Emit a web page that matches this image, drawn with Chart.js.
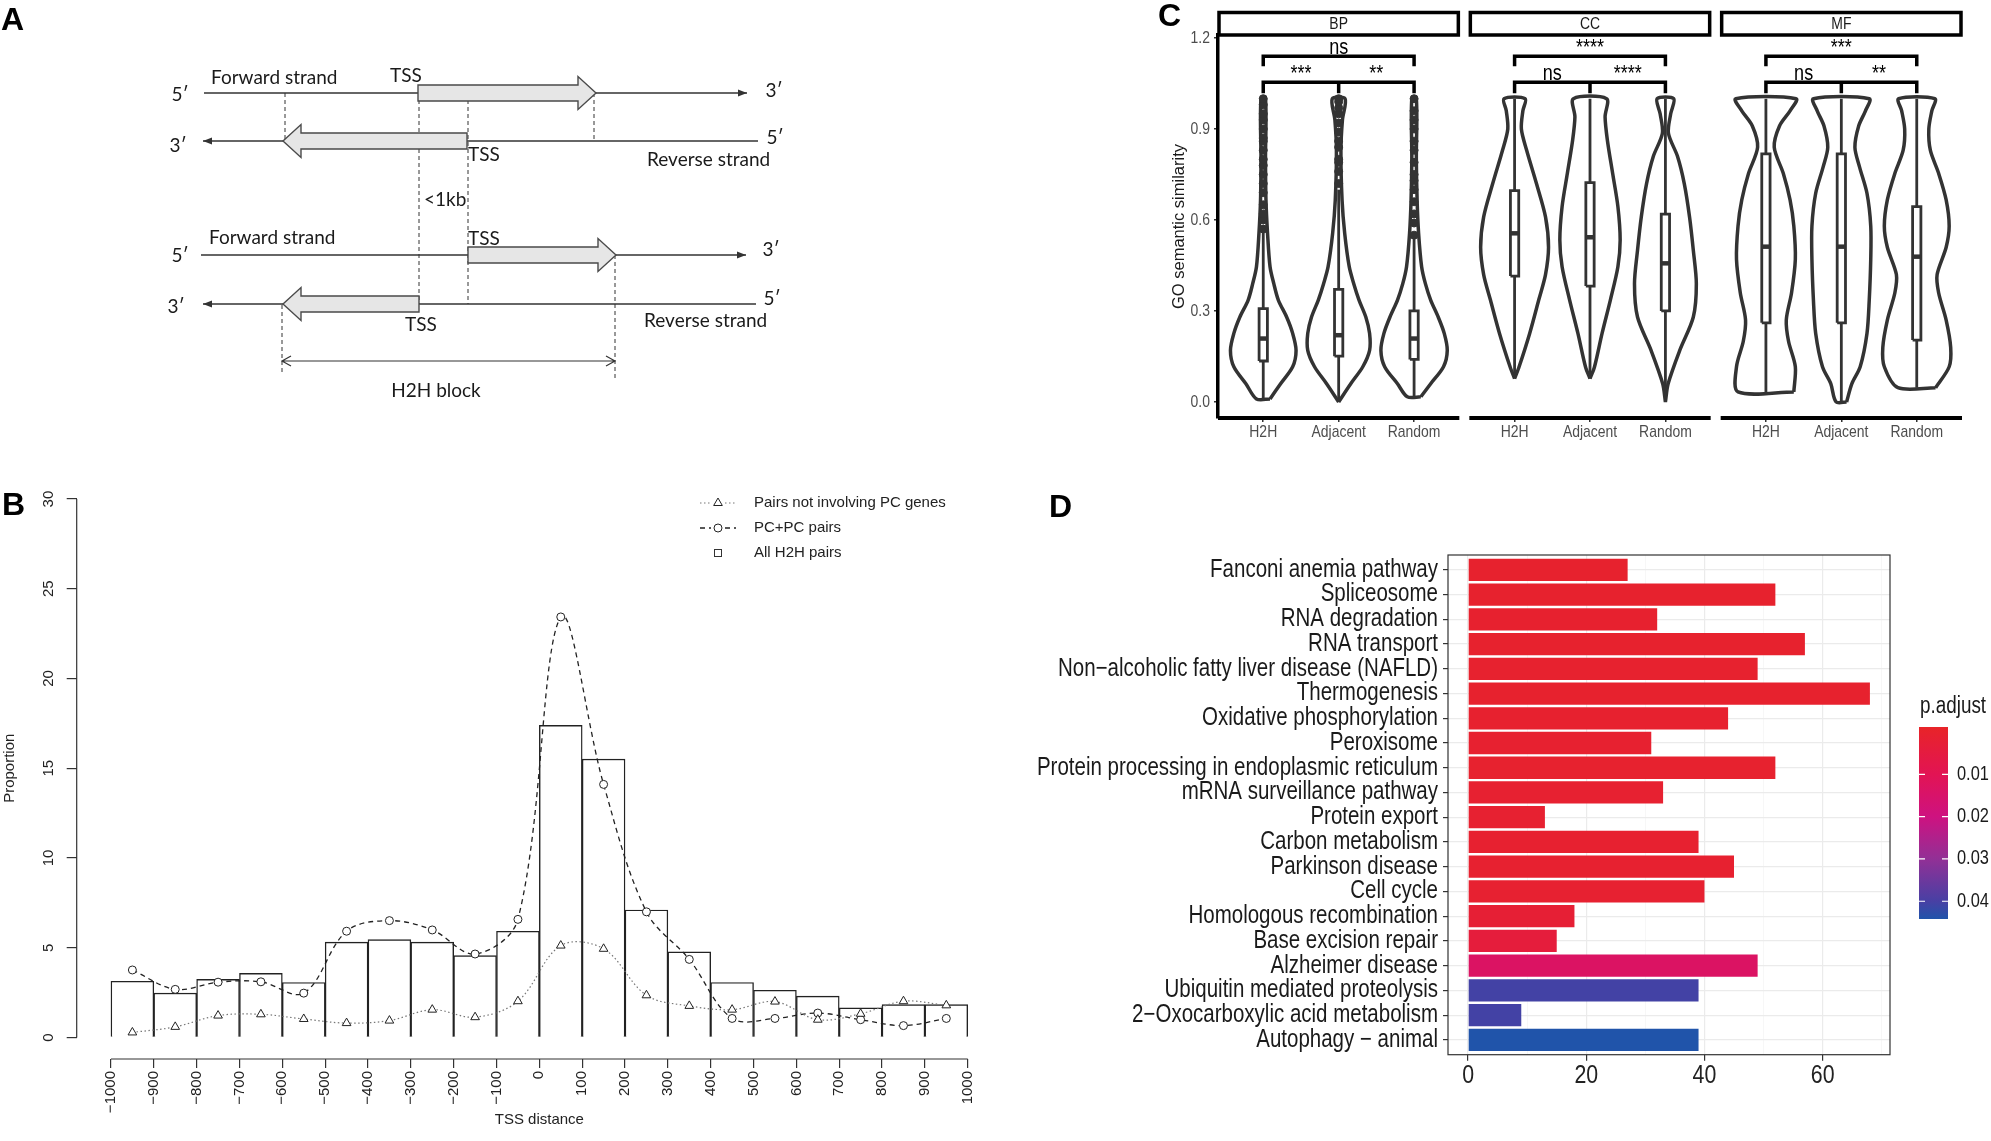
<!DOCTYPE html>
<html>
<head>
<meta charset="utf-8">
<script src="https://cdn.jsdelivr.net/npm/chart.js@4.4.1/dist/chart.umd.min.js"></script>
<style>
  body { margin: 0; background: #fff; width: 1991px; height: 1141px; position: relative; overflow: hidden; }
  canvas { position: absolute; }
  .tag { position: absolute; font: bold 32px "Liberation Sans", Arial, sans-serif; line-height: 32px; color: #000; }
</style>
</head>
<body>
<canvas id="chartA" width="820" height="460" style="left:0px;top:0px"></canvas>
<canvas id="chartB" width="1010" height="671" style="left:0px;top:470px"></canvas>
<canvas id="chartC" width="851" height="470" style="left:1140px;top:0px"></canvas>
<canvas id="chartD" width="981" height="661" style="left:1010px;top:480px"></canvas>
<div class="tag" style="left:1px;top:3px">A</div>
<div class="tag" style="left:2px;top:488px">B</div>
<div class="tag" style="left:1158px;top:-1px">C</div>
<div class="tag" style="left:1049px;top:490px">D</div>
<script>
// ---------- panel A : H2H schematic (schematic units) ----------
var strandRows = [93, 141, 255, 304];
var strandEnds = [[204, 747], [203, 758], [201, 746], [203, 756]];
var strandDir = [1, -1, 1, -1];
var geneTss = [418, 467, 468, 419];
var geneEnd = [596, 283, 616, 283];
var guideLines = [[285, 93, 141], [419, 100, 304], [468, 100, 304], [594, 93, 139], [282, 305, 374], [615, 255, 381]];
var blockSpan = [282, 615, 361];

// ---------- panel B : TSS distance distribution ----------
var tssBins = [-950, -850, -750, -650, -550, -450, -350, -250, -150, -50, 50, 150, 250, 350, 450, 550, 650, 750, 850, 950];
var allH2H = [3.13, 2.47, 3.24, 3.57, 3.06, 5.31, 5.45, 5.31, 4.56, 5.92, 17.39, 15.51, 7.10, 4.77, 3.06, 2.63, 2.30, 1.65, 1.83, 1.83];
var pcPairs = [3.76, 2.68, 3.08, 3.10, 2.47, 5.92, 6.51, 5.99, 4.65, 6.58, 23.43, 14.10, 7.00, 4.35, 1.06, 1.06, 1.36, 0.99, 0.66, 1.06];
var nonPcPairs = [0.28, 0.59, 1.22, 1.29, 1.03, 0.80, 0.94, 1.55, 1.13, 2.02, 5.12, 4.94, 2.35, 1.76, 1.55, 2.00, 0.99, 1.32, 2.02, 1.79];
var tssTicks = [-1000, -900, -800, -700, -600, -500, -400, -300, -200, -100, 0, 100, 200, 300, 400, 500, 600, 700, 800, 900, 1000];
var proportionTicks = [0, 5, 10, 15, 20, 25, 30];

// ---------- panel C : GO semantic similarity ----------
var goFacets = ['BP', 'CC', 'MF'];
var goGroups = ['H2H', 'Adjacent', 'Random'];
// violin outlines: [similarity, half width in group units]
var bpH2H = [[0.01, 0.09], [0.06, 0.23], [0.116, 0.39], [0.17, 0.435], [0.226, 0.39], [0.28, 0.31], [0.336, 0.2], [0.39, 0.14], [0.446, 0.09], [0.556, 0.057], [0.666, 0.036], [0.8, 0.03], [1.0, 0.03]];
var bpAdj = [[0.0, 0.0], [0.06, 0.16], [0.116, 0.32], [0.17, 0.41], [0.226, 0.41], [0.28, 0.36], [0.336, 0.27], [0.39, 0.2], [0.446, 0.14], [0.556, 0.08], [0.666, 0.045], [0.83, 0.03], [0.93, 0.05], [1.0, 0.085]];
var bpRand = [[0.017, 0.09], [0.06, 0.22], [0.116, 0.39], [0.17, 0.44], [0.226, 0.4], [0.28, 0.32], [0.336, 0.22], [0.39, 0.15], [0.446, 0.1], [0.556, 0.06], [0.666, 0.04], [0.8, 0.03], [1.0, 0.03]];
var ccH2H = [[0.077, 0], [0.116, 0.06], [0.226, 0.2], [0.336, 0.32], [0.42, 0.41], [0.51, 0.45], [0.61, 0.41], [0.72, 0.29], [0.83, 0.16], [0.9, 0.09], [0.96, 0.11], [1.0, 0.14]];
var ccAdj = [[0.077, 0], [0.116, 0.06], [0.226, 0.16], [0.336, 0.27], [0.446, 0.37], [0.534, 0.4], [0.644, 0.37], [0.754, 0.3], [0.864, 0.23], [0.94, 0.2], [1.0, 0.22]];
var ccRand = [[0, 0], [0.06, 0.036], [0.17, 0.19], [0.28, 0.37], [0.39, 0.41], [0.5, 0.37], [0.61, 0.32], [0.72, 0.25], [0.81, 0.16], [0.886, 0.04], [0.95, 0.07], [1.0, 0.11]];
var mfH2H = [[0.033, 0.37], [0.116, 0.39], [0.2, 0.3], [0.27, 0.27], [0.36, 0.34], [0.47, 0.39], [0.58, 0.37], [0.666, 0.32], [0.754, 0.23], [0.84, 0.11], [0.91, 0.18], [0.96, 0.32], [1.0, 0.4]];
var mfAdj = [[0, 0.07], [0.06, 0.14], [0.116, 0.25], [0.226, 0.34], [0.336, 0.37], [0.47, 0.39], [0.58, 0.39], [0.688, 0.34], [0.776, 0.24], [0.84, 0.18], [0.91, 0.23], [0.96, 0.32], [1.0, 0.37]];
var mfRand = [[0.047, 0.25], [0.116, 0.43], [0.18, 0.45], [0.27, 0.39], [0.36, 0.29], [0.42, 0.27], [0.51, 0.39], [0.58, 0.43], [0.666, 0.39], [0.754, 0.29], [0.83, 0.18], [0.9, 0.16], [0.96, 0.2], [1.0, 0.24]];
var violins = [bpH2H, bpAdj, bpRand, ccH2H, ccAdj, ccRand, mfH2H, mfAdj, mfRand];
var boxQ1 = [0.135, 0.151, 0.14, 0.415, 0.382, 0.30, 0.261, 0.261, 0.204];
var boxMedian = [0.209, 0.22, 0.209, 0.556, 0.543, 0.457, 0.512, 0.512, 0.479];
var boxQ3 = [0.308, 0.371, 0.30, 0.697, 0.723, 0.619, 0.818, 0.818, 0.644];
var whiskerLo = [0.01, 0.0, 0.017, 0.077, 0.077, 0.0, 0.033, 0.0, 0.047];
var whiskerHi = [0.56, 0.70, 0.54, 1.0, 1.0, 1.0, 1.0, 1.0, 1.0];
var bpOutliers = [
  [0.57, 0.6, 0.62, 0.65, 0.69, 0.72, 0.75, 0.78, 0.8, 0.83, 0.86, 0.87, 0.9, 0.93, 0.95, 0.98, 1.0],
  [0.72, 0.76, 0.79, 0.8, 0.84, 0.86, 0.89, 0.92, 0.95, 0.97, 0.99, 1.0],
  [0.55, 0.59, 0.62, 0.66, 0.7, 0.73, 0.75, 0.79, 0.83, 0.86, 0.9, 0.93, 0.96, 1.0]
];
var sigOuter = ['ns', '****', '***'];
var sigLeft = ['***', 'ns', 'ns'];
var sigRight = ['**', '****', '**'];
var similarityTicks = [0, 0.3, 0.6, 0.9, 1.2];

// ---------- panel D : KEGG enrichment ----------
var keggTerms = ['Fanconi anemia pathway', 'Spliceosome', 'RNA degradation', 'RNA transport',
  'Non\u2212alcoholic fatty liver disease (NAFLD)', 'Thermogenesis', 'Oxidative phosphorylation', 'Peroxisome',
  'Protein processing in endoplasmic reticulum', 'mRNA surveillance pathway', 'Protein export', 'Carbon metabolism',
  'Parkinson disease', 'Cell cycle', 'Homologous recombination', 'Base excision repair', 'Alzheimer disease',
  'Ubiquitin mediated proteolysis', '2\u2212Oxocarboxylic acid metabolism', 'Autophagy \u2212 animal'];
var keggCounts = [27, 52, 32, 57, 49, 68, 44, 31, 52, 33, 13, 39, 45, 40, 18, 15, 49, 39, 9, 39];
var keggPadj = [0.0004, 0.0003, 0.0006, 0.0003, 0.0005, 0.0002, 0.0006, 0.0008, 0.0005, 0.001, 0.0012, 0.0009, 0.0008, 0.001, 0.002, 0.004, 0.0135, 0.0405, 0.0405, 0.0442];
var countTicks = [0, 10, 20, 30, 40, 50, 60, 70];
var padjTicks = [0.01, 0.02, 0.03, 0.04];
var padjStops = [-0.0012, 0.01, 0.02, 0.03, 0.04, 0.0442];
var padjStopColours = [[232, 36, 40], [226, 20, 84], [206, 18, 128], [146, 48, 150], [72, 64, 164], [32, 84, 170]];

var SANS = '"Liberation Sans", Arial, sans-serif';
var LATO = 'Lato, "Open Sans", sans-serif';

Chart.defaults.font.family = SANS;
Chart.defaults.color = '#222';
Chart.defaults.animation = false;

function baseOpts() {
  return { responsive: false, animation: false, devicePixelRatio: 1, events: [],
    plugins: { legend: { display: false }, tooltip: { enabled: false } } };
}

// condensed (Arial Narrow like) text
function narrowText(ctx, text, x, y, size, align, baseline, colour) {
  ctx.save();
  ctx.font = size + 'px ' + SANS;
  ctx.fillStyle = colour;
  ctx.textAlign = align;
  ctx.textBaseline = baseline;
  ctx.translate(x, y);
  ctx.scale(0.82, 1);
  ctx.fillText(text, 0, 0);
  ctx.restore();
}

// ================= A =================
var schematicA = {
  id: 'schematicA',
  afterDraw: function (chart) {
    var ctx = chart.ctx, xs = chart.scales.x, ys = chart.scales.y;
    var X = function (v) { return xs.getPixelForValue(v); };
    var Y = function (v) { return ys.getPixelForValue(v); };
    ctx.save();
    ctx.strokeStyle = '#333';
    ctx.fillStyle = '#333';
    ctx.lineWidth = 1.3;
    strandRows.forEach(function (r, i) {
      var a = X(strandEnds[i][0]), b = X(strandEnds[i][1]), yy = Y(r);
      ctx.beginPath(); ctx.moveTo(a, yy); ctx.lineTo(b, yy); ctx.stroke();
      var tip = strandDir[i] > 0 ? b : a, d = strandDir[i];
      ctx.beginPath(); ctx.moveTo(tip, yy); ctx.lineTo(tip - d * 9, yy - 3.5); ctx.lineTo(tip - d * 9, yy + 3.5); ctx.closePath(); ctx.fill();
    });
    ctx.setLineDash([4, 3]);
    ctx.lineWidth = 1;
    guideLines.forEach(function (g) {
      ctx.beginPath(); ctx.moveTo(X(g[0]), Y(g[1])); ctx.lineTo(X(g[0]), Y(g[2])); ctx.stroke();
    });
    ctx.setLineDash([]);
    strandRows.forEach(function (r, i) {
      var s = X(geneTss[i]), e = X(geneEnd[i]), d = e > s ? 1 : -1, yy = Y(r);
      var hb = e - d * 18;
      ctx.beginPath();
      ctx.moveTo(s, yy - 8); ctx.lineTo(hb, yy - 8); ctx.lineTo(hb, yy - 16.5); ctx.lineTo(e, yy);
      ctx.lineTo(hb, yy + 16.5); ctx.lineTo(hb, yy + 8); ctx.lineTo(s, yy + 8); ctx.closePath();
      ctx.fillStyle = '#e6e6e6'; ctx.fill();
      ctx.strokeStyle = '#4a4a4a'; ctx.lineWidth = 1.4; ctx.stroke();
    });
    var l = X(blockSpan[0]), rr = X(blockSpan[1]), by = Y(blockSpan[2]);
    ctx.strokeStyle = '#333'; ctx.lineWidth = 1.2;
    ctx.beginPath(); ctx.moveTo(l, by); ctx.lineTo(rr, by);
    ctx.moveTo(l + 9, by - 5); ctx.lineTo(l, by); ctx.lineTo(l + 9, by + 5);
    ctx.moveTo(rr - 9, by - 5); ctx.lineTo(rr, by); ctx.lineTo(rr - 9, by + 5);
    ctx.stroke();
    ctx.fillStyle = '#1a1a1a';
    ctx.font = '19px ' + LATO;
    ctx.textBaseline = 'middle';
    var labels = [
      ['Forward strand', 211, 78, 'left'], ['Forward strand', 209, 238, 'left'],
      ['Reverse strand', 647, 160, 'left'], ['Reverse strand', 644, 321, 'left'],
      ['TSS', 406, 76, 'center'], ['TSS', 484, 155, 'center'], ['TSS', 484, 239, 'center'], ['TSS', 421, 325, 'center'],
      ['5\u2032', 180, 95, 'center'], ['3\u2032', 774, 91, 'center'],
      ['3\u2032', 178, 146, 'center'], ['5\u2032', 775, 138, 'center'],
      ['5\u2032', 180, 256, 'center'], ['3\u2032', 771, 250, 'center'],
      ['3\u2032', 176, 307, 'center'], ['5\u2032', 772, 299, 'center'],
      ['<1kb', 424, 200, 'left'], ['H2H block', 436, 391, 'center']
    ];
    labels.forEach(function (t) { ctx.textAlign = t[3]; ctx.fillText(t[0], X(t[1]), Y(t[2])); });
    ctx.restore();
  }
};

var optsA = baseOpts();
optsA.layout = { padding: 0 };
optsA.scales = {
  x: { type: 'linear', min: 0, max: 820, display: false },
  y: { type: 'linear', min: 0, max: 460, reverse: true, display: false }
};
new Chart(document.getElementById('chartA'), { type: 'scatter', data: { datasets: [] }, options: optsA, plugins: [schematicA] });

// ================= B =================
function xy(xsv, ysv) { return ysv.map(function (v, i) { return { x: xsv[i], y: v }; }); }

var rStyleB = {
  id: 'rStyleB',
  afterDraw: function (chart) {
    var ctx = chart.ctx, a = chart.chartArea, xs = chart.scales.x, ys = chart.scales.y;
    ctx.save();
    ctx.strokeStyle = '#333'; ctx.lineWidth = 1.2;
    ctx.beginPath();
    ctx.moveTo(a.left, ys.getPixelForValue(proportionTicks[0]));
    ctx.lineTo(a.left, ys.getPixelForValue(proportionTicks[proportionTicks.length - 1]));
    ctx.moveTo(xs.getPixelForValue(tssTicks[0]), a.bottom);
    ctx.lineTo(xs.getPixelForValue(tssTicks[tssTicks.length - 1]), a.bottom);
    ctx.stroke();
    ctx.fillStyle = '#222';
    ctx.font = '15px ' + SANS;
    ctx.textAlign = 'center'; ctx.textBaseline = 'middle';
    proportionTicks.forEach(function (v) {
      ctx.save(); ctx.translate(a.left - 28, ys.getPixelForValue(v)); ctx.rotate(-Math.PI / 2);
      ctx.fillText(String(v), 0, 0); ctx.restore();
    });
    var ds = chart.data.datasets;
    ctx.textAlign = 'left';
    ds.forEach(function (d, i) {
      var ly = 33 + 25 * i, sx = 718;
      ctx.strokeStyle = d.borderColor; ctx.lineWidth = d.borderWidth;
      if (d.type === 'line') {
        ctx.setLineDash(d.borderDash);
        ctx.beginPath(); ctx.moveTo(sx - 18, ly); ctx.lineTo(sx - 7, ly); ctx.moveTo(sx + 7, ly); ctx.lineTo(sx + 18, ly); ctx.stroke();
        ctx.setLineDash([]);
        ctx.strokeStyle = d.pointBorderColor; ctx.fillStyle = '#fff'; ctx.lineWidth = 1;
        Chart.helpers.drawPoint(ctx, { pointStyle: d.pointStyle, radius: d.pointRadius, borderWidth: 1, rotation: 0 }, sx, ly);
      } else {
        ctx.lineWidth = 1; ctx.strokeStyle = '#333';
        ctx.strokeRect(sx - 3.5, ly - 3.5, 7, 7);
      }
      ctx.fillStyle = '#222';
      ctx.fillText(d.label, 754, ly);
    });
    ctx.restore();
  }
};

var optsB = baseOpts();
optsB.layout = { padding: { left: 0, right: 8, top: 7.5, bottom: 0 } };
optsB.scales = {
  x: {
    type: 'linear', min: -1080, max: 1080, offset: false,
    afterBuildTicks: function (s) { s.ticks = tssTicks.map(function (v) { return { value: v }; }); },
    ticks: { autoSkip: false, minRotation: 90, maxRotation: 90, padding: 3, font: { size: 15 }, color: '#222',
      callback: function (v) { return v < 0 ? '\u2212' + Math.abs(v) : String(v); } },
    grid: { offset: false, drawOnChartArea: false, drawTicks: true, tickLength: 9, color: '#333', lineWidth: 1.2 },
    border: { display: false },
    title: { display: true, text: 'TSS distance', font: { size: 15 }, color: '#222', padding: { top: 0, bottom: 12 } },
    afterFit: function (s) { s.height = 82; s.paddingLeft = 0; s.paddingRight = 0; }
  },
  y: {
    type: 'linear', min: -1.2, max: 31.2,
    afterBuildTicks: function (s) { s.ticks = proportionTicks.map(function (v) { return { value: v }; }); },
    ticks: { display: false },
    grid: { drawOnChartArea: false, drawTicks: true, tickLength: 10, color: '#333', lineWidth: 1.2 },
    border: { display: false },
    title: { display: true, text: 'Proportion', font: { size: 15 }, color: '#222', padding: { top: 1, bottom: 0 } },
    afterFit: function (s) { s.width = 76.7; s.paddingTop = 0; s.paddingBottom = 0; }
  }
};
new Chart(document.getElementById('chartB'), {
  type: 'bar',
  data: {
    datasets: [
      { type: 'line', label: 'Pairs not involving PC genes', data: xy(tssBins, nonPcPairs), borderColor: '#777', borderWidth: 1.2,
        borderDash: [1.5, 2.5], tension: 0.35, pointStyle: 'triangle', pointRadius: 5, pointBorderColor: '#222',
        pointBackgroundColor: '#fff', pointBorderWidth: 1, order: 0 },
      { type: 'line', label: 'PC+PC pairs', data: xy(tssBins, pcPairs), borderColor: '#222', borderWidth: 1.3,
        borderDash: [5, 4], tension: 0.35, pointStyle: 'circle', pointRadius: 4, pointBorderColor: '#222',
        pointBackgroundColor: '#fff', pointBorderWidth: 1, order: 0 },
      { type: 'bar', label: 'All H2H pairs', data: xy(tssBins, allH2H), backgroundColor: '#fff', borderColor: '#222',
        borderWidth: 1.4, barPercentage: 1, categoryPercentage: 1, order: 1 }
    ]
  },
  options: optsB,
  plugins: [rStyleB]
});

// ================= C =================
var FACET_W = 3.2, FACET_GAP = 0.1326;
function facetStart(f) { return f * (FACET_W + FACET_GAP); }
function groupX(f, g) { return facetStart(f) + 0.6 + g; }

var dsC = [];
violins.forEach(function (prof, k) {
  var cx = groupX(Math.floor(k / 3), k % 3);
  var right = prof.map(function (p) { return { x: cx + p[1], y: p[0] }; });
  var left = prof.slice().reverse().map(function (p) { return { x: cx - p[1], y: p[0] }; });
  dsC.push({ data: right.concat(left, [right[0]]), showLine: true, tension: 0.3, pointRadius: 0,
    borderColor: '#333', borderWidth: 3.5, fill: false, order: 5 });
  dsC.push({ data: [{ x: cx, y: whiskerLo[k] }, { x: cx, y: whiskerHi[k] }], showLine: true, pointRadius: 0,
    borderColor: '#333', borderWidth: 2.8, order: 4 });
  var bw = 0.055;
  dsC.push({ data: [{ x: cx - bw, y: boxQ1[k] }, { x: cx + bw, y: boxQ1[k] }, { x: cx + bw, y: boxQ3[k] }, { x: cx - bw, y: boxQ3[k] }, { x: cx - bw, y: boxQ1[k] }],
    showLine: true, pointRadius: 0, borderColor: '#333', borderWidth: 2.8, fill: 'shape', backgroundColor: '#fff', order: 2 });
  dsC.push({ data: [{ x: cx - bw, y: boxMedian[k] }, { x: cx + bw, y: boxMedian[k] }], showLine: true, pointRadius: 0,
    borderColor: '#333', borderWidth: 4.5, order: 1 });
});
bpOutliers.forEach(function (vals, g) {
  var cx = groupX(0, g);
  dsC.push({ data: vals.map(function (v) { return { x: cx, y: v }; }), pointRadius: 4, pointBackgroundColor: '#333',
    pointBorderColor: '#333', showLine: false, order: 3 });
});

var facetsC = {
  id: 'facetsC',
  afterDraw: function (chart) {
    var ctx = chart.ctx, a = chart.chartArea, xs = chart.scales.x, ys = chart.scales.y;
    var X = function (v) { return xs.getPixelForValue(v); };
    var Y = function (v) { return ys.getPixelForValue(v); };
    ctx.save();
    similarityTicks.forEach(function (v) {
      narrowText(ctx, v.toFixed(1), a.left - 8, Y(v), 17, 'right', 'middle', '#4d4d4d');
    });
    goFacets.forEach(function (name, f) {
      var l = X(facetStart(f)), r = X(facetStart(f) + FACET_W);
      ctx.fillStyle = '#fff'; ctx.strokeStyle = '#000'; ctx.lineWidth = 3.5;
      ctx.fillRect(l, 11, r - l, a.top - 11);
      ctx.strokeRect(l + 1, 12.5, r - l - 2, a.top - 12.5);
      narrowText(ctx, name, (l + r) / 2, (12.5 + a.top) / 2 + 1, 17, 'center', 'middle', '#1a1a1a');
      ctx.strokeStyle = '#000'; ctx.lineWidth = 4;
      ctx.beginPath(); ctx.moveTo(l, a.bottom); ctx.lineTo(r, a.bottom); ctx.stroke();
      goGroups.forEach(function (g, j) {
        narrowText(ctx, g, X(groupX(f, j)), a.bottom + 6, 17, 'center', 'top', '#4d4d4d');
      });
      var c0 = X(groupX(f, 0)), c1 = X(groupX(f, 1)), c2 = X(groupX(f, 2));
      ctx.strokeStyle = '#000'; ctx.lineWidth = 3.5;
      ctx.beginPath();
      ctx.moveTo(c0, Y(1.107)); ctx.lineTo(c0, Y(1.14)); ctx.lineTo(c2, Y(1.14)); ctx.lineTo(c2, Y(1.107));
      ctx.moveTo(c0, Y(1.018)); ctx.lineTo(c0, Y(1.054)); ctx.lineTo(c2, Y(1.054)); ctx.lineTo(c2, Y(1.018));
      ctx.moveTo(c1, Y(1.054)); ctx.lineTo(c1, Y(1.018));
      ctx.stroke();
      narrowText(ctx, sigOuter[f], c1, Y(1.148), 22, 'center', 'alphabetic', '#000');
      narrowText(ctx, sigLeft[f], (c0 + c1) / 2, Y(1.062), 22, 'center', 'alphabetic', '#000');
      narrowText(ctx, sigRight[f], (c1 + c2) / 2, Y(1.062), 22, 'center', 'alphabetic', '#000');
    });
    ctx.restore();
  }
};

var optsC = baseOpts();
optsC.layout = { padding: { left: 0, right: 29, top: 35, bottom: 0 } };
optsC.scales = {
  x: {
    type: 'linear', min: 0, max: facetStart(2) + FACET_W,
    afterBuildTicks: function (s) {
      var t = [];
      goFacets.forEach(function (f, i) { goGroups.forEach(function (g, j) { t.push({ value: groupX(i, j) }); }); });
      s.ticks = t;
    },
    ticks: { display: false },
    grid: { drawOnChartArea: false, drawTicks: true, tickLength: 4, color: '#333', lineWidth: 1.5 },
    border: { display: false },
    afterFit: function (s) { s.height = 52; s.paddingLeft = 0; s.paddingRight = 0; }
  },
  y: {
    type: 'linear', min: -0.053, max: 1.21,
    afterBuildTicks: function (s) { s.ticks = similarityTicks.map(function (v) { return { value: v }; }); },
    ticks: { display: false },
    grid: { drawOnChartArea: false, drawTicks: true, tickLength: 4, color: '#333', lineWidth: 1.5 },
    border: { display: true, color: '#000', width: 3.5 },
    title: { display: true, text: 'GO semantic similarity', font: { size: 16.5 }, color: '#1a1a1a', padding: { top: 30, bottom: 0 } },
    afterFit: function (s) { s.width = 78; s.paddingTop = 0; s.paddingBottom = 0; }
  }
};
new Chart(document.getElementById('chartC'), { type: 'scatter', data: { datasets: dsC }, options: optsC, plugins: [facetsC] });

// ================= D =================
function padjColour(p) {
  var s = padjStops, c = padjStopColours, i = 0;
  if (p <= s[0]) return 'rgb(' + c[0].join(',') + ')';
  while (i < s.length - 2 && p > s[i + 1]) i++;
  var t = Math.min(1, (p - s[i]) / (s[i + 1] - s[i]));
  var rgb = [0, 1, 2].map(function (k) { return Math.round(c[i][k] + (c[i + 1][k] - c[i][k]) * t); });
  return 'rgb(' + rgb.join(',') + ')';
}

var frameD = {
  id: 'frameD',
  afterDraw: function (chart) {
    var ctx = chart.ctx, a = chart.chartArea, xs = chart.scales.x, ys = chart.scales.y;
    ctx.save();
    ctx.strokeStyle = '#333'; ctx.lineWidth = 1.2;
    ctx.strokeRect(a.left, a.top, a.right - a.left, a.bottom - a.top);
    keggTerms.forEach(function (t, i) {
      narrowText(ctx, t, a.left - 10, ys.getPixelForValue(i + 1), 25, 'right', 'middle', '#1a1a1a');
    });
    countTicks.forEach(function (v) {
      if (v % 20 === 0) narrowText(ctx, String(v), xs.getPixelForValue(v), a.bottom + 8, 26, 'center', 'top', '#222');
    });
    // colour bar legend
    var top = 247, bottom = 439, left = a.right + 29, w = 29;
    var lo = padjStops[0], hi = padjStops[padjStops.length - 1];
    var yOf = function (p) { return top + (p - lo) / (hi - lo) * (bottom - top); };
    var g = ctx.createLinearGradient(0, top, 0, bottom);
    padjStops.forEach(function (p) { g.addColorStop((p - lo) / (hi - lo), padjColour(p)); });
    ctx.fillStyle = g; ctx.fillRect(left, top, w, bottom - top);
    ctx.strokeStyle = '#fff'; ctx.lineWidth = 1.2;
    padjTicks.forEach(function (p) {
      var yy = yOf(p);
      ctx.beginPath(); ctx.moveTo(left, yy); ctx.lineTo(left + 6, yy); ctx.moveTo(left + w - 6, yy); ctx.lineTo(left + w, yy); ctx.stroke();
      narrowText(ctx, String(p), left + w + 9, yy, 20, 'left', 'middle', '#1a1a1a');
    });
    narrowText(ctx, 'p.adjust', left + 1, top - 20, 23, 'left', 'middle', '#1a1a1a');
    ctx.restore();
  }
};

var optsD = baseOpts();
optsD.indexAxis = 'y';
optsD.layout = { padding: { left: 0, right: 101, top: 75, bottom: 0 } };
optsD.scales = {
  x: {
    type: 'linear', min: -3.4, max: 71.4,
    afterBuildTicks: function (s) { s.ticks = countTicks.map(function (v) { return { value: v }; }); },
    ticks: { display: false },
    grid: {
      color: function (c) { return c.tick && c.tick.value % 20 === 0 ? '#ebebeb' : '#f4f4f4'; },
      lineWidth: function (c) { return c.tick && c.tick.value % 20 === 0 ? 1.2 : 0.7; },
      tickColor: function (c) { return c.tick && c.tick.value % 20 === 0 ? '#333' : 'rgba(0,0,0,0)'; },
      tickLength: 6, tickWidth: 1.2
    },
    border: { display: false },
    afterFit: function (s) { s.height = 86.3; s.paddingLeft = 0; s.paddingRight = 0; }
  },
  y: {
    type: 'linear', min: 0.4, max: 20.6, reverse: true, offset: false,
    afterBuildTicks: function (s) { s.ticks = keggTerms.map(function (t, i) { return { value: i + 1 }; }); },
    ticks: { display: false },
    grid: { offset: false, color: '#ebebeb', lineWidth: 1.2, tickColor: '#333', tickLength: 5, tickWidth: 1.2 },
    border: { display: false },
    afterFit: function (s) { s.width = 438; s.paddingTop = 0; s.paddingBottom = 0; }
  }
};
new Chart(document.getElementById('chartD'), {
  type: 'bar',
  data: { datasets: [{ data: keggCounts.map(function (v, i) { return { x: v, y: i + 1 }; }),
    backgroundColor: keggPadj.map(padjColour), borderWidth: 0, barPercentage: 0.9, categoryPercentage: 1 }] },
  options: optsD,
  plugins: [frameD]
});
</script>
</body>
</html>
